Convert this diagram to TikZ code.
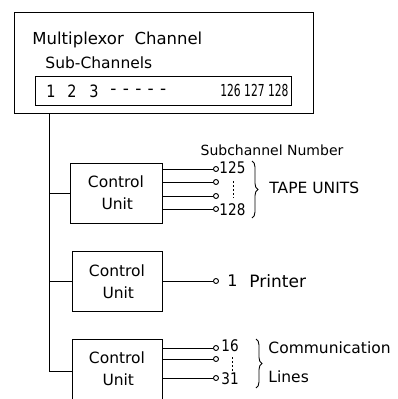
\documentclass[tikz,border=0pt]{standalone}
\usepackage{fontspec}
\usepackage{graphicx}
\setmainfont{DejaVu Sans}
\usetikzlibrary{decorations.pathreplacing}
\begin{document}
\begin{tikzpicture}[x=1pt,y=-1pt,line width=0.9pt,
  box/.style={draw,inner sep=0pt},
  cu/.style={draw,minimum width=90pt,minimum height=60pt,align=center,font=\fontsize{15.5}{22}\selectfont},
  term/.style={draw,circle,inner sep=0pt,minimum size=5pt,fill=white},
  lbl/.style={font=\fontsize{15.5}{16}\selectfont,inner sep=0pt},
  num/.style={font=\fontsize{16}{16}\selectfont,inner sep=0pt,anchor=west},
  digit/.style={font=\fontsize{17}{17}\selectfont,inner sep=0pt},
  brc/.style={decorate,decoration={brace,amplitude=6pt}}]
\useasboundingbox (0,0) rectangle (397,399);
% multiplexor channel
\node[box,minimum width=299pt,minimum height=101pt] (mux) at (163.5,62.5) {};
\node[lbl,anchor=west,font=\fontsize{16.5}{18}\selectfont] (mtitle) at (32,40) {Multiplexor\,\, Channel};
\node[lbl,anchor=west,font=\fontsize{15.5}{16}\selectfont] (stitle) at (45,63) {Sub-Channels};
\node[box,minimum width=256pt,minimum height=29pt] (sub) at (163,90.5) {};
\node[digit] (s1) at (51,91) {\scalebox{0.85}[1]{1}};
\node[digit] (s2) at (72,91) {\scalebox{0.85}[1]{2}};
\node[digit] (s3) at (94,91) {\scalebox{0.85}[1]{3}};
\node[digit,anchor=west] (sdash) at (110,92) {-\hspace{6.3pt}-\hspace{6.3pt}-\hspace{6.3pt}-\hspace{6.3pt}-};
\node[num,anchor=east,font=\fontsize{16.5}{17}\selectfont] (s126) at (289,90) {\scalebox{0.65}[1]{126 127 128}};
% control units
\node[cu,minimum width=92pt] (cu1) at (116,193) {Control\\\,Unit};
\node[cu] (cu2) at (117,281.5) {Control\\\,Unit};
\node[cu] (cu3) at (117,369) {Control\\\,Unit};
% bus
\coordinate (bustop) at (49,113);
\coordinate (busbot) at (49,371);
\draw (bustop) -- (busbot) -- (cu3.west |- busbot);
\draw (cu1.west -| bustop) -- (cu1.west);
\draw (cu2.west -| bustop) -- (cu2.west);
% tape units
\node[lbl,font=\fontsize{14}{16}\selectfont] (subnum) at (272,150) {Subchannel Number};
\foreach \y/\n in {169/a,182/b,196/c,209/d}{
  \node[term] (t\n) at (216,\y) {};
  \draw (cu1.east |- t\n) -- (t\n);
}
\node[num] (l125) at (219,168) {\scalebox{0.85}[1]{125}};
\node[num] (l128) at (219,210) {\scalebox{0.85}[1]{128}};
\draw[dash pattern=on 2pt off 2pt,line width=0.6pt] (233,181) -- (233,198);
\coordinate (tb1) at (252,161);
\coordinate (tb2) at (252,218);
\draw[brc] (tb1) -- (tb2);
\node[lbl,anchor=west] (tape) at (269,188) {TAPE UNITS};
% printer
\node[term] (p1) at (216,281) {};
\draw (cu2.east |- p1) -- (p1);
\node[num] (l1) at (227,281) {1};
\node[lbl,anchor=west,font=\fontsize{17}{18}\selectfont] (printer) at (249,281) {Printer};
% communication
\foreach \y/\n in {348/a,359/b,378/c}{
  \node[term] (c\n) at (216,\y) {};
  \draw (cu3.east |- c\n) -- (c\n);
}
\node[num] (l16) at (221,346) {\scalebox{0.85}[1]{16}};
\node[num] (l31) at (221,379) {\scalebox{0.85}[1]{31}};
\draw[dash pattern=on 2pt off 2pt,line width=0.6pt] (232,357) -- (232,371);
\coordinate (cb1) at (256,339);
\coordinate (cb2) at (256,388);
\draw[brc] (cb1) -- (cb2);
\node[lbl,anchor=west] (comm) at (268,348) {Communication};
\node[lbl,anchor=west] (lines) at (268,377) {Lines};
\end{tikzpicture}
\end{document}
